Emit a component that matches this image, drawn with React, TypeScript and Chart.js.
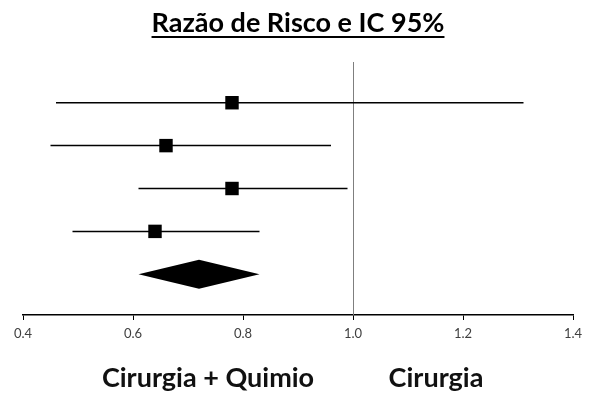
import React, { useEffect, useRef } from "react";
import { Chart, registerables } from "chart.js";

Chart.register(...registerables);

// ---- Data ----
const studyRows = [1, 2, 3, 4];
const riskRatios = [0.78, 0.66, 0.78, 0.64];
const lowerCI = [0.46, 0.45, 0.61, 0.49];
const upperCI = [1.31, 0.96, 0.99, 0.83];

const pooledRow = 5;
const pooledEstimate = 0.72;
const pooledLower = 0.61;
const pooledUpper = 0.83;

const nullValue = 1.0;
const xTicks = [0.4, 0.6, 0.8, 1.0, 1.2, 1.4];

const titleText = "Razão de Risco e IC 95%";
const leftLabel = "Cirurgia + Quimio";
const rightLabel = "Cirurgia";

const FONT = "Lato, 'Open Sans', sans-serif";

const forestPlugin = {
  id: "forestExtras",
  beforeDatasetsDraw(chart: any) {
    const { ctx, chartArea, scales } = chart;
    const x = scales.x.getPixelForValue(nullValue);
    ctx.save();
    ctx.strokeStyle = "#7f7f7f";
    ctx.lineWidth = 1;
    ctx.beginPath();
    ctx.moveTo(Math.round(x) + 0.5, chartArea.top);
    ctx.lineTo(Math.round(x) + 0.5, chartArea.bottom);
    ctx.stroke();
    ctx.restore();
  },
  afterDatasetsDraw(chart: any) {
    const { ctx, scales } = chart;
    const xl = scales.x.getPixelForValue(pooledLower);
    const xm = scales.x.getPixelForValue(pooledEstimate);
    const xr = scales.x.getPixelForValue(pooledUpper);
    const y = scales.y.getPixelForValue(pooledRow);
    const h = 14.5;
    ctx.save();
    ctx.fillStyle = "#000";
    ctx.beginPath();
    ctx.moveTo(xl, y);
    ctx.lineTo(xm, y - h);
    ctx.lineTo(xr, y);
    ctx.lineTo(xm, y + h);
    ctx.closePath();
    ctx.fill();
    ctx.restore();
  },
};

export default function App() {
  const ref = useRef<HTMLCanvasElement | null>(null);

  useEffect(() => {
    if (!ref.current) return;
    const ciDatasets = studyRows.map((row, i) => ({
      type: "line" as const,
      data: [
        { x: lowerCI[i], y: row },
        { x: upperCI[i], y: row },
      ],
      borderColor: "#000",
      borderWidth: 1.5,
      pointRadius: 0,
      fill: false,
    }));
    const pointDataset = {
      type: "scatter" as const,
      data: studyRows.map((row, i) => ({ x: riskRatios[i], y: row })),
      pointStyle: "rect",
      pointRadius: 9.5,
      backgroundColor: "#000",
      borderColor: "#000",
      borderWidth: 0,
    };

    const chart = new Chart(ref.current, {
      type: "scatter",
      data: { datasets: [...ciDatasets, pointDataset] as any },
      options: {
        animation: false,
        responsive: false,
        devicePixelRatio: 1,
        layout: { padding: { left: 23, right: 16, top: 62, bottom: 41 } },
        plugins: {
          legend: { display: false },
          tooltip: { enabled: false },
          title: { display: false },
        },
        scales: {
          x: {
            type: "linear",
            min: 0.4,
            max: 1.4,
            afterBuildTicks: (axis: any) => {
              axis.ticks = xTicks.map((v) => ({ value: v }));
            },
            afterFit: (scale: any) => {
              scale.height = 40;
            },
            ticks: {
              callback: (v: any) => Number(v).toFixed(1),
              color: "#404040",
              font: { family: FONT, size: 13 },
              padding: 6,
              maxRotation: 0,
            },
            grid: {
              display: true,
              drawOnChartArea: false,
              drawTicks: true,
              tickLength: 5,
              color: "#000",
              tickColor: "#000",
            },
            border: { display: true, color: "#000", width: 1.5 },
          },
          y: {
            type: "linear",
            min: 0.05,
            max: 5.95,
            reverse: true,
            display: false,
          },
        },
      },
      plugins: [forestPlugin],
    });
    return () => chart.destroy();
  }, []);

  const labelStyle: React.CSSProperties = {
    position: "absolute",
    top: 362,
    textAlign: "center",
    fontFamily: FONT,
    fontWeight: 700,
    fontSize: 27,
    color: "#111",
    lineHeight: "30px",
    whiteSpace: "nowrap",
  };

  return (
    <div
      style={{
        position: "absolute",
        left: 0,
        top: 0,
        width: 589,
        height: 396,
        background: "#fff",
        overflow: "hidden",
      }}
    >
      <canvas ref={ref} width={589} height={396} style={{ position: "absolute", left: 0, top: 0, width: 589, height: 396 }} />
      <div
        style={{
          position: "absolute",
          left: 0,
          width: 596,
          top: 7,
          textAlign: "center",
          fontFamily: FONT,
          fontWeight: 700,
          fontSize: 27,
          color: "#000",
          lineHeight: "30px",
          textDecoration: "underline",
          textDecorationThickness: "2px",
          textUnderlineOffset: "4px",
          whiteSpace: "nowrap",
        }}
      >
        {titleText}
      </div>
      <div style={{ ...labelStyle, left: 208 - 150, width: 300 }}>{leftLabel}</div>
      <div style={{ ...labelStyle, left: 436 - 100, width: 200 }}>{rightLabel}</div>
    </div>
  );
}
